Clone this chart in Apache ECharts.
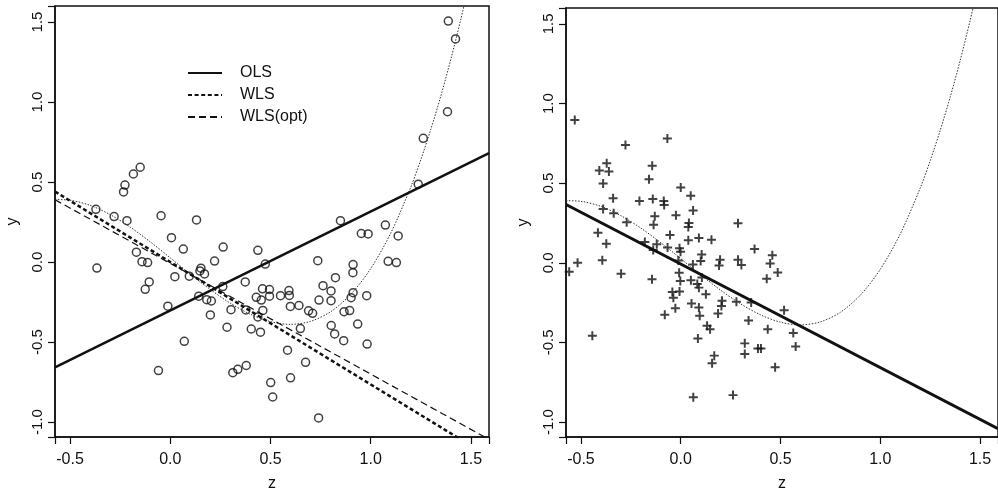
<!DOCTYPE html>
<html>
<head>
<meta charset="utf-8">
<script src="https://cdn.jsdelivr.net/npm/echarts@6/dist/echarts.min.js"></script>
<style>
html,body{margin:0;padding:0;background:#fff;}
#c{width:998px;height:497px;}
</style>
</head>
<body>
<div id="c"></div>
<script>
// ---- data ----
var leftZ = [-0.371,-0.28,-0.216,-0.226,-0.233,-0.184,-0.15,-0.046,0.131,0.006,0.065,0.264,0.221,-0.169,-0.141,-0.113,-0.366,0.023,0.095,0.153,0.148,0.171,-0.105,-0.125,0.262,0.142,0.182,0.205,-0.012,0.2,0.07,-0.059,0.283,0.303,0.312,0.337,0.379,0.437,0.374,0.474,0.377,0.404,0.45,0.429,0.454,0.46,0.495,0.462,0.437,0.501,0.511,0.55,0.495,0.592,0.594,0.599,0.642,0.585,0.6,0.649,0.675,0.74,0.69,0.71,0.736,0.849,0.912,0.911,0.824,0.762,0.802,0.912,0.902,0.98,0.742,0.802,0.867,0.895,0.803,0.935,0.82,0.865,0.982,0.953,0.987,1.073,1.137,1.087,1.128,1.237,1.262,1.383,1.387,1.423];
var leftY = [0.329,0.284,0.258,0.481,0.438,0.55,0.592,0.289,0.263,0.152,0.081,0.093,0.006,0.061,0.002,-0.004,-0.038,-0.092,-0.089,-0.039,-0.056,-0.075,-0.125,-0.171,-0.154,-0.214,-0.236,-0.244,-0.276,-0.331,-0.496,-0.679,-0.408,-0.298,-0.692,-0.671,-0.647,0.073,-0.125,-0.013,-0.3,-0.419,-0.439,-0.221,-0.238,-0.168,-0.172,-0.303,-0.344,-0.754,-0.844,-0.211,-0.214,-0.179,-0.209,-0.278,-0.272,-0.551,-0.724,-0.416,-0.627,-0.975,-0.305,-0.321,0.008,0.258,-0.016,-0.067,-0.098,-0.148,-0.181,-0.192,-0.223,-0.211,-0.238,-0.242,-0.311,-0.304,-0.397,-0.388,-0.45,-0.492,-0.513,0.178,0.175,0.231,0.163,0.004,-0.004,0.486,0.773,0.939,1.506,1.394];

var rightZ = [-0.531,-0.277,-0.067,-0.371,-0.408,-0.36,-0.389,-0.143,-0.159,0.0,0.05,-0.339,-0.207,-0.14,-0.085,-0.083,-0.024,0.062,-0.389,-0.336,-0.13,-0.136,0.041,0.038,0.287,-0.271,-0.415,-0.373,-0.054,0.038,0.091,0.154,-0.18,-0.12,-0.138,-0.066,-0.006,-0.001,0.105,0.1,-0.517,-0.393,0.061,0.197,0.192,0.287,0.304,-0.559,-0.443,-0.299,-0.144,-0.012,-0.008,-0.002,0.051,0.083,0.091,0.106,0.126,-0.042,-0.037,-0.006,-0.027,-0.08,0.054,0.091,0.095,0.187,0.207,0.204,0.279,0.353,0.518,0.132,0.147,0.086,0.34,0.436,0.564,0.321,0.321,0.387,0.402,0.168,0.157,0.063,0.262,0.576,0.473,0.37,0.459,0.448,0.486,0.431];
var rightY = [0.896,0.739,0.78,0.625,0.579,0.573,0.498,0.609,0.525,0.473,0.421,0.406,0.388,0.4,0.388,0.363,0.298,0.328,0.338,0.311,0.292,0.239,0.25,0.225,0.249,0.255,0.188,0.119,0.175,0.142,0.156,0.144,0.13,0.116,0.081,0.096,0.091,0.07,0.052,0.011,0.0,0.016,-0.011,0.019,-0.017,0.019,-0.014,-0.056,-0.458,-0.069,-0.104,0.014,-0.063,-0.114,-0.109,-0.133,-0.156,-0.092,-0.198,-0.184,-0.219,-0.181,-0.286,-0.327,-0.256,-0.281,-0.333,-0.319,-0.238,-0.271,-0.244,-0.25,-0.298,-0.396,-0.417,-0.475,-0.363,-0.417,-0.441,-0.506,-0.573,-0.538,-0.538,-0.583,-0.631,-0.844,-0.831,-0.525,-0.656,0.086,0.048,-0.005,-0.061,-0.1];

// fitted lines (end points)
var olsLine = [[-0.575, -0.659], [1.59, 0.681]];
var wlsLine = [[-0.575, 0.44], [1.45, -1.11]];
var wlsOptLine = [[-0.575, 0.389], [1.59, -1.109]];
var rightLine = [[-0.575, 0.366], [1.59, -1.042]];

// dotted true-mean curve
var curveZ = [-0.575,-0.5,-0.4,-0.3,-0.2,-0.1,0,0.1,0.2,0.3,0.4,0.5,0.6,0.7,0.8,0.9,1.0,1.1,1.2,1.25,1.3,1.35,1.4,1.45,1.5];
var curveY = [0.39,0.386,0.354,0.296,0.218,0.126,0.026,-0.076,-0.172,-0.258,-0.327,-0.373,-0.39,-0.371,-0.311,-0.203,-0.041,0.181,0.469,0.64,0.83,1.039,1.269,1.52,1.793];

var xTicks = [-0.5, 0, 0.5, 1, 1.5];
var yTicks = [-1, -0.5, 0, 0.5, 1, 1.5];
var legendNames = ['OLS', 'WLS', 'WLS(opt)'];

// ---- build ----
function pairs(a, b) { return a.map(function (v, i) { return [v, b[i]]; }); }
var FONT = '"Liberation Sans", Arial, Helvetica, sans-serif';
var INK = '#111';
var X_MIN = -0.575, X_MAX = 1.59, Y_MIN = -1.094, Y_MAX = 1.6;

function xAx(gi) {
  return {
    type: 'value', gridIndex: gi, min: X_MIN, max: X_MAX,
    name: 'z', nameLocation: 'middle', nameGap: 39,
    nameTextStyle: { fontFamily: FONT, fontSize: 16, color: INK },
    axisLine: { show: true, onZero: false, lineStyle: { color: INK, width: 1.5 } },
    splitLine: { show: false },
    axisTick: { show: true, inside: false, length: 7, lineStyle: { color: INK, width: 1.2 } },
    axisLabel: { customValues: xTicks, margin: 15, fontFamily: FONT, fontSize: 16, color: INK,
      formatter: function (v) { return (+v).toFixed(1); } }
  };
}
function yAx(gi) {
  return {
    type: 'value', gridIndex: gi, min: Y_MIN, max: Y_MAX,
    name: 'y', nameLocation: 'middle', nameGap: 34, nameRotate: 90,
    nameTextStyle: { fontFamily: FONT, fontSize: 16, color: INK },
    axisLine: { show: true, onZero: false, lineStyle: { color: INK, width: 1.5 } },
    splitLine: { show: false },
    axisTick: { show: true, inside: false, length: 7, lineStyle: { color: INK, width: 1.2 } },
    axisLabel: { customValues: yTicks, rotate: 90, margin: 10, fontFamily: FONT, fontSize: 15, color: INK,
      formatter: function (v) { return (+v).toFixed(1); } }
  };
}

var plusPath = 'path://M0,3.9H10V6.1H0Z M3.9,0H6.1V10H3.9Z';

var option = {
  animation: false,
  backgroundColor: '#fff',
  grid: [
    { left: 55, top: 6, width: 434, height: 431, show: true, borderColor: INK, borderWidth: 1.5, backgroundColor: 'transparent', containLabel: false },
    { left: 566, top: 8, width: 434, height: 432, show: true, borderColor: INK, borderWidth: 1.5, backgroundColor: 'transparent', containLabel: false }
  ],
  xAxis: [xAx(0), xAx(1)],
  yAxis: [yAx(0), yAx(1)],
  legend: {
    data: legendNames,
    orient: 'vertical',
    left: 182, top: 60,
    itemWidth: 34, itemHeight: 14, itemGap: 6,
    selectedMode: false,
    itemStyle: { opacity: 0 },
    textStyle: { fontFamily: FONT, fontSize: 16, color: INK, lineHeight: 16, padding: [0, 0, 0, 13] }
  },
  series: [
    { type: 'scatter', name: 'pts1', xAxisIndex: 0, yAxisIndex: 0, data: pairs(leftZ, leftY),
      symbol: 'circle', symbolSize: 8,
      itemStyle: { color: 'rgba(0,0,0,0)', borderColor: INK, borderWidth: 1.5 } },
    { type: 'line', name: 'curve1', xAxisIndex: 0, yAxisIndex: 0, data: pairs(curveZ, curveY),
      smooth: 0.3, showSymbol: false, symbol: 'none', clip: true,
      itemStyle: { color: '#333' },
      lineStyle: { color: '#333', width: 1, type: [1.5, 1.5] } },
    { type: 'line', name: 'OLS', xAxisIndex: 0, yAxisIndex: 0, data: olsLine,
      symbol: 'none', clip: true, itemStyle: { color: INK },
      lineStyle: { color: INK, width: 2.5, type: 'solid' } },
    { type: 'line', name: 'WLS', xAxisIndex: 0, yAxisIndex: 0, data: wlsLine,
      symbol: 'none', clip: true, itemStyle: { color: INK },
      lineStyle: { color: INK, width: 2.5, type: [4, 2.6] } },
    { type: 'line', name: 'WLS(opt)', xAxisIndex: 0, yAxisIndex: 0, data: wlsOptLine,
      symbol: 'none', clip: true, itemStyle: { color: INK },
      lineStyle: { color: INK, width: 1.2, type: [7, 4] } },

    { type: 'scatter', name: 'pts2', xAxisIndex: 1, yAxisIndex: 1, data: pairs(rightZ, rightY),
      symbol: plusPath, symbolSize: 9,
      itemStyle: { color: INK } },
    { type: 'line', name: 'curve2', xAxisIndex: 1, yAxisIndex: 1, data: pairs(curveZ, curveY),
      smooth: 0.3, showSymbol: false, symbol: 'none', clip: true,
      itemStyle: { color: '#333' },
      lineStyle: { color: '#333', width: 1, type: [1.5, 1.5] } },
    { type: 'line', name: 'fit2', xAxisIndex: 1, yAxisIndex: 1, data: rightLine,
      symbol: 'none', clip: true, itemStyle: { color: INK },
      lineStyle: { color: INK, width: 3, type: 'solid' } }
  ]
};

var chart = echarts.init(document.getElementById('c'), null, { renderer: 'canvas' });
chart.setOption(option);
</script>
</body>
</html>
